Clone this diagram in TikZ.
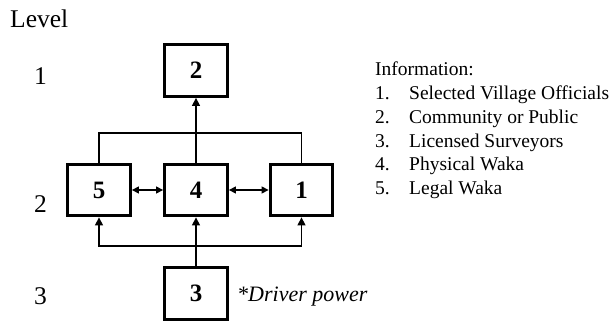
\documentclass[tikz,border=0pt]{standalone}
\usepackage{fontspec}
\setmainfont{Liberation Serif}
\usetikzlibrary{arrows.meta}

\tikzset{
  actor/.style={draw, line width=3.3pt, minimum width=62.5pt, minimum height=51.5pt,
    inner sep=0pt, font=\fontsize{25}{29}\selectfont\bfseries},
  link/.style={line width=1.3pt},
  uparrow/.style={link, -{Triangle[length=8pt,width=8pt]}},
  bothways/.style={link, {Triangle[length=7pt,width=7pt]}-{Triangle[length=7pt,width=7pt]}},
  levellabel/.style={anchor=base west, inner sep=0pt, font=\fontsize{25.5}{30}\selectfont},
  legend/.style={anchor=base west, inner sep=0pt, font=\fontsize{19.5}{23}\selectfont},
  note/.style={anchor=base west, inner sep=0pt, font=\fontsize{22}{26}\selectfont\itshape}
}

\begin{document}
\begin{tikzpicture}[x=1pt, y=-1pt]
  \useasboundingbox (0,0) rectangle (613,331);

  % level column
  \node[levellabel] (lvl) at (10,28) {Level};
  \node[levellabel] (lv1) at (34,85) {1};
  \node[levellabel] (lv2) at (34,213) {2};
  \node[levellabel] (lv3) at (34,304) {3};

  % actors
  \node[actor] (b2) at (196,70.5) {2};
  \node[actor] (b5) at (99,190) {5};
  \node[actor] (b4) at (196,190) {4};
  \node[actor] (b1) at (301.5,190) {1};
  \node[actor] (b3) at (196,293.5) {3};

  % junction points
  \coordinate (top) at (196,133);
  \coordinate (bot) at (196,246);

  % upper links
  \draw[link] (b5.north) |- (top) -| (b1.north);
  \draw[uparrow] (b4.north) -- (b2.south);

  % same-level links
  \draw[bothways] (b5.east) -- (b4.west);
  \draw[bothways] (b4.east) -- (b1.west);

  % lower links
  \draw[uparrow] (b3.north) -- (b4.south);
  \draw[uparrow] (bot) -| (b5.south);
  \draw[uparrow] (bot) -| (b1.south);

  % driver note
  \node[note] (drv) at (237,301) {*Driver power};

  % legend
  \node[legend] (inf) at (375,75.5) {Information:};
  \node[legend] (n1) at (375,99.5) {1.};
  \node[legend] (t1) at (409,99.5) {Selected Village Officials};
  \node[legend] (n2) at (375,123.3) {2.};
  \node[legend] (t2) at (409,123.3) {Community or Public};
  \node[legend] (n3) at (375,147.1) {3.};
  \node[legend] (t3) at (409,147.1) {Licensed Surveyors};
  \node[legend] (n4) at (375,170.9) {4.};
  \node[legend] (t4) at (409,170.9) {Physical Waka};
  \node[legend] (n5) at (375,194.7) {5.};
  \node[legend] (t5) at (409,194.7) {Legal Waka};
\end{tikzpicture}
\end{document}
